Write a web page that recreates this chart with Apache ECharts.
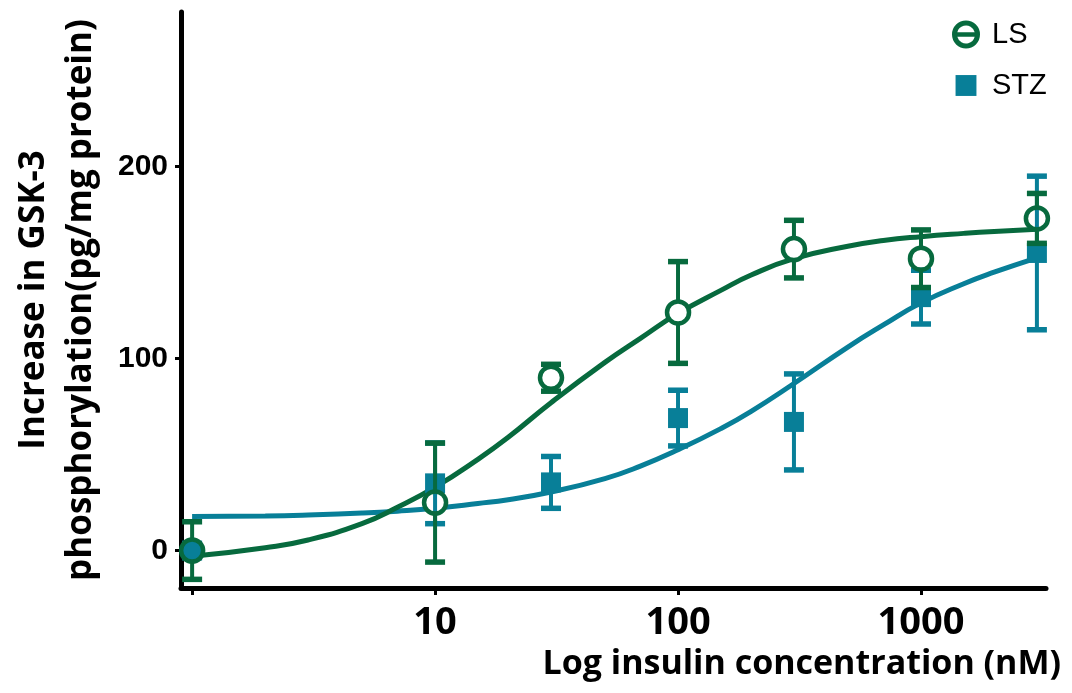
<!DOCTYPE html>
<html>
<head>
<meta charset="utf-8">
<script src="https://cdn.jsdelivr.net/npm/echarts@6/dist/echarts.min.js"></script>
<style>
  html, body { margin: 0; padding: 0; background: #fff; }
  #chart { width: 1072px; height: 693px; }
</style>
</head>
<body>
<div id="chart"></div>
<script>
// ---- data ----
const doseX   = [1, 10, 30, 100, 300, 1000, 3000];
const lsMean  = [0, 25, 90, 124, 157, 152, 173];
const lsErr   = [15, 31, 7, 26.5, 15, 15, 13];
const stzMean = [0, 35, 35.5, 69, 67, 132, 155];
const stzErr  = [0, 21, 13.5, 14.5, 25, 14, 40];

// fitted curves
const curveX   = [1, 2, 3, 5, 7, 10, 15, 20, 30, 50, 70, 100, 150, 200, 300, 500, 700, 1000, 1500, 2000, 3000];
const lsCurve  = [-3, 1.5, 5.5, 14, 22.5, 33, 47.5, 59, 77, 98, 110.5, 123.5, 135.5, 143.5, 152, 158.5, 161.5, 163.5, 165.2, 166.2, 167.3];
const stzCurve = [17.7, 18, 18.5, 19.5, 20.5, 22, 24.5, 26.5, 30.5, 37.5, 44, 52.5, 63.5, 72.5, 87, 106, 117.5, 129, 139, 145, 152.5];

const xTicks = [1, 10, 100, 1000];
const xLabels = [10, 100, 1000];
const yTicks = [0, 100, 200];

const GREEN = '#076A3E';
const BLUE = '#087F98';

const pairs = (xs, ys) => xs.map((x, i) => [x, ys[i]]);
const errData = (m, e) => doseX.map((x, i) => [x, m[i] - e[i], m[i] + e[i], m[i], e[i]]);

function makeErrRender(color, gap) {
  return function (params, api) {
    const x = api.value(0), lo = api.value(1), hi = api.value(2), m = api.value(3), e = api.value(4);
    if (!e) return null;
    const pLo = api.coord([x, lo]);
    const pHi = api.coord([x, hi]);
    const pM = api.coord([x, m]);
    const half = 10;
    const bar = { stroke: color, lineWidth: 4 };
    const cap = { stroke: color, lineWidth: 5.5 };
    const children = [];
    const cx = pM[0];
    if (gap > 0) {
      if (pHi[1] < pM[1] - gap) children.push({ type: 'line', shape: { x1: cx, y1: pHi[1], x2: cx, y2: pM[1] - gap }, style: bar });
      if (pLo[1] > pM[1] + gap) children.push({ type: 'line', shape: { x1: cx, y1: pM[1] + gap, x2: cx, y2: pLo[1] }, style: bar });
    } else {
      children.push({ type: 'line', shape: { x1: cx, y1: pHi[1], x2: cx, y2: pLo[1] }, style: bar });
    }
    children.push({ type: 'line', shape: { x1: cx - half, y1: pHi[1], x2: cx + half, y2: pHi[1] }, style: cap });
    children.push({ type: 'line', shape: { x1: cx - half, y1: pLo[1], x2: cx + half, y2: pLo[1] }, style: cap });
    return { type: 'group', children: children };
  };
}

const ringIcon = 'path://M0,50A50,50,0,1,1,100,50A50,50,0,1,1,0,50Z' +
  'M80.98,42A32,32,0,0,0,19.02,42Z' +
  'M19.02,58A32,32,0,0,0,80.98,58Z';
const squareIcon = 'path://M-17,-17M117,117M0,0H100V100H0Z';

const chart = echarts.init(document.getElementById('chart'), null, { renderer: 'canvas' });
chart.setOption({
  animation: false,
  backgroundColor: '#ffffff',
  title: {
    text: 'Log insulin concentration (nM)',
    right: 11,
    top: 647,
    padding: 0,
    textStyle: { fontFamily: 'Open Sans, sans-serif', fontWeight: 'bold', fontSize: 34, color: '#000' }
  },
  grid: { left: 181, right: 26, top: 12, bottom: 105, containLabel: false, outerBoundsMode: 'none' },
  legend: {
    orient: 'vertical',
    left: 947,
    top: 15,
    itemWidth: 28,
    itemHeight: 28,
    itemGap: 22,
    selectedMode: false,
    textStyle: { fontFamily: 'Liberation Sans, Arial, sans-serif', fontSize: 29, color: '#000', padding: [0, 0, 0, 7] },
    data: [
      { name: 'LS', icon: ringIcon, itemStyle: { color: GREEN, borderWidth: 0, opacity: 1 } },
      { name: 'STZ', icon: squareIcon, itemStyle: { color: BLUE, borderWidth: 0, opacity: 1 } }
    ]
  },
  xAxis: {
    type: 'log',
    logBase: 10,
    min: 0.9,
    max: 3270,
    axisLine: { show: true, onZero: false, lineStyle: { color: '#000', width: 5 } },
    axisTick: { show: true, length: 7, lineStyle: { color: '#000', width: 3 }, customValues: xTicks },
    axisLabel: {
      show: true, margin: 16, customValues: xLabels,
      formatter: function (v) { return String(Math.round(v)); },
      fontFamily: 'Open Sans, sans-serif',
      fontWeight: 'bold', fontSize: 38, color: '#000'
    },
    splitLine: { show: false },
    minorTick: { show: false }
  },
  yAxis: {
    type: 'value',
    min: -19.5,
    max: 280.5,
    name: 'Increase in GSK-3\nphosphorylation(pg/mg protein)',
    nameLocation: 'middle',
    nameRotate: 90,
    nameGap: 76,
    nameTextStyle: {
      fontFamily: 'Open Sans, sans-serif', fontWeight: 'bold', fontSize: 35,
      lineHeight: 47, color: '#000'
    },
    axisLine: { show: true, onZero: false, lineStyle: { color: '#000', width: 5 } },
    axisTick: { show: true, length: 6, lineStyle: { color: '#000', width: 3 }, customValues: yTicks },
    axisLabel: {
      show: true, margin: 13, customValues: yTicks,
      fontFamily: 'Liberation Sans, Arial, sans-serif', fontWeight: 'bold', fontSize: 30, color: '#000'
    },
    splitLine: { show: false }
  },
  series: [
    {
      name: 'STZ', type: 'line', data: pairs(curveX, stzCurve), smooth: 0.5,
      showSymbol: false, symbol: 'none', z: 2,
      lineStyle: { color: BLUE, width: 5 }, itemStyle: { color: BLUE }
    },
    {
      name: 'LS', type: 'line', data: pairs(curveX, lsCurve), smooth: 0.5,
      showSymbol: false, symbol: 'none', z: 2,
      lineStyle: { color: GREEN, width: 5 }, itemStyle: { color: GREEN }
    },
    {
      name: 'LS', type: 'scatter', data: pairs(doseX, lsMean), symbol: 'circle', symbolSize: 20,
      z: 3, silent: true, itemStyle: { color: '#ffffff', borderWidth: 0, opacity: 1 }
    },
    {
      name: 'STZ', type: 'custom', data: errData(stzMean, stzErr), z: 4, silent: true,
      renderItem: makeErrRender(BLUE, 0), encode: { x: 0, y: [1, 2] }
    },
    {
      name: 'STZ', type: 'scatter', data: pairs(doseX, stzMean), symbol: 'rect', symbolSize: 20,
      z: 4, itemStyle: { color: BLUE, opacity: 1 }
    },
    {
      name: 'LS', type: 'custom', data: errData(lsMean, lsErr), z: 5, silent: true,
      renderItem: makeErrRender(GREEN, 11.5), encode: { x: 0, y: [1, 2] }
    },
    {
      name: 'LS', type: 'scatter', data: pairs(doseX, lsMean), symbol: 'circle', symbolSize: 22,
      z: 5, itemStyle: { color: 'rgba(0,0,0,0)', borderColor: GREEN, borderWidth: 4.5, opacity: 1 }
    }
  ]
});
</script>
</body>
</html>
